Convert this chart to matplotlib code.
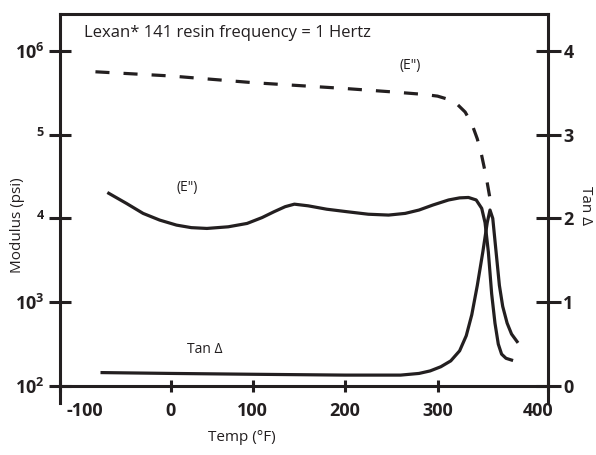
import numpy as np
import matplotlib
matplotlib.use('Agg')
import matplotlib.pyplot as plt
import matplotlib.transforms as mtransforms
from matplotlib.ticker import FixedLocator, NullLocator

plt.rcParams['font.family'] = ['Open Sans', 'DejaVu Sans']
plt.rcParams['mathtext.default'] = 'regular'

ink = '#231f20'

# E' (dashed), psi
ep_temp = [-68, 0, 100, 200, 250, 285, 300, 310, 318, 325, 331, 336, 340, 344, 348]
ep_mod = [5.62e5, 5.01e5, 4.17e5, 3.55e5, 3.24e5, 3.02e5, 2.88e5, 2.63e5, 2.29e5, 1.86e5,
          1.35e5, 8.9e4, 5.6e4, 3.16e4, 1.58e4]

# E'' (solid), psi
epp_temp = [-56, -40, -25, -10, 7, 25, 44, 70, 93, 110, 123, 135, 145, 160, 180, 202, 225, 247,
            265, 280, 295, 310, 320, 328, 335, 340, 343, 346, 349, 352, 355, 358, 362, 367]
epp_mod = [19950, 15100, 11480, 9550, 8320, 7760, 7590, 7940, 8710, 10230, 12020, 13800, 14790,
           14130, 12880, 12020, 11220, 10960, 11480, 12590, 14450, 16600, 17580, 17780, 16600,
           13180, 8910, 3980, 1260, 562, 316, 240, 214, 204]

# tan delta (right axis)
tan_temp = [-62, 0, 100, 200, 260, 280, 292, 303, 312, 320, 326, 331, 336, 341, 345, 347.5,
            350, 353, 356, 359, 363, 367, 372]
tan_val = [0.16, 0.15, 0.14, 0.13, 0.13, 0.15, 0.18, 0.23, 0.30, 0.42, 0.6, 0.85, 1.2, 1.6,
           1.95, 2.1, 2.0, 1.6, 1.2, 0.95, 0.75, 0.62, 0.53]

x_ticks = [-100, 0, 100, 200, 300, 400]
x_labels = ['-100', '0', '100', '200', '300', '400']
mod_ticks = [1e2, 1e3, 1e4, 1e5, 1e6]
mod_labels = ['10$^2$', '10$^3$', '$^4$', '$^5$', '10$^6$']
tan_ticks = [0, 1, 2, 3, 4]

# the original axis is hand drawn, tick spacing is uneven
x_warp = [0, 110.7, 192.7, 285, 377.3, 487.7]


def fwd(t):
    return np.interp(t, x_ticks, x_warp)


def inv(p):
    return np.interp(p, x_warp, x_ticks)


fig = plt.figure(figsize=(5.96, 4.55), dpi=100)
ax = fig.add_axes([60 / 596, 1 - 386 / 455, 488 / 596, 372.3 / 455])
ax2 = ax.twinx()

ax.set_xscale('function', functions=(fwd, inv))
ax.set_xlim(-100, 400)
ax.set_yscale('log')
ax.set_ylim(1e2, 10 ** 6.443)
ax2.set_ylim(0, 4.443)

ax.plot(ep_temp, ep_mod, color=ink, lw=2.3, dashes=(4.4, 4.4))
ax.plot(epp_temp, epp_mod, color=ink, lw=2.3, solid_joinstyle='round')
ax2.plot(tan_temp, tan_val, color=ink, lw=2.3, solid_joinstyle='round')

ax.xaxis.set_major_locator(FixedLocator(x_ticks))
ax.set_xticklabels(x_labels)
ax.yaxis.set_major_locator(FixedLocator(mod_ticks))
ax.yaxis.set_minor_locator(NullLocator())
ax.set_yticklabels(mod_labels)
ax2.yaxis.set_major_locator(FixedLocator(tan_ticks))

for a in (ax, ax2):
    for s in a.spines.values():
        s.set_linewidth(2.2)
        s.set_color(ink)
ax.spines['right'].set_visible(False)
ax2.spines['left'].set_visible(False)
ax2.spines['bottom'].set_visible(False)
ax2.spines['top'].set_visible(False)
ax.spines['left'].set_bounds(10 ** 1.797, 10 ** 6.443)
ax2.spines['right'].set_bounds(-0.203, 4.443)

ax.tick_params(axis='x', direction='inout', length=9, width=2.2, color=ink, pad=7,
               labelsize=13, labelcolor=ink)
ax.tick_params(axis='y', direction='inout', length=16, width=2.2, color=ink, pad=3,
               labelsize=13, labelcolor=ink)
ax2.tick_params(axis='y', direction='inout', length=18, width=2.2, color=ink, pad=2,
                labelsize=13, labelcolor=ink)
for lab in ax.get_xticklabels() + ax.get_yticklabels() + ax2.get_yticklabels():
    lab.set_fontweight('bold')

# end labels sit inside the corners
xl = ax.get_xticklabels()
xl[0].set_transform(xl[0].get_transform() + mtransforms.ScaledTranslation(0.25, 0, fig.dpi_scale_trans))
xl[-1].set_transform(xl[-1].get_transform() + mtransforms.ScaledTranslation(-0.10, 0, fig.dpi_scale_trans))

ax.set_xlabel('Temp (°F)', fontsize=11, color=ink, va='center')
ax.xaxis.set_label_coords(0.373, -0.137)
ax.set_ylabel('Modulus (psi)', fontsize=11, color=ink, va='center')
ax.yaxis.set_label_coords(-0.088, 0.432)
ax2.set_ylabel('Tan Δ', fontsize=11, color=ink, rotation=270, va='center')
ax2.yaxis.set_label_coords(1.076, 0.486)

ax.text(0.049, 0.948, 'Lexan* 141 resin frequency = 1 Hertz', transform=ax.transAxes,
        fontsize=12, color=ink, ha='left', va='center')
ax.text(0.717, 0.86, '(E")', transform=ax.transAxes, fontsize=10, color=ink,
        ha='center', va='center')
ax.text(0.26, 0.532, '(E")', transform=ax.transAxes, fontsize=10, color=ink,
        ha='center', va='center')
ax.text(0.297, 0.097, 'Tan Δ', transform=ax.transAxes, fontsize=10, color=ink,
        ha='center', va='center')

fig.savefig('out.png', dpi=100)
